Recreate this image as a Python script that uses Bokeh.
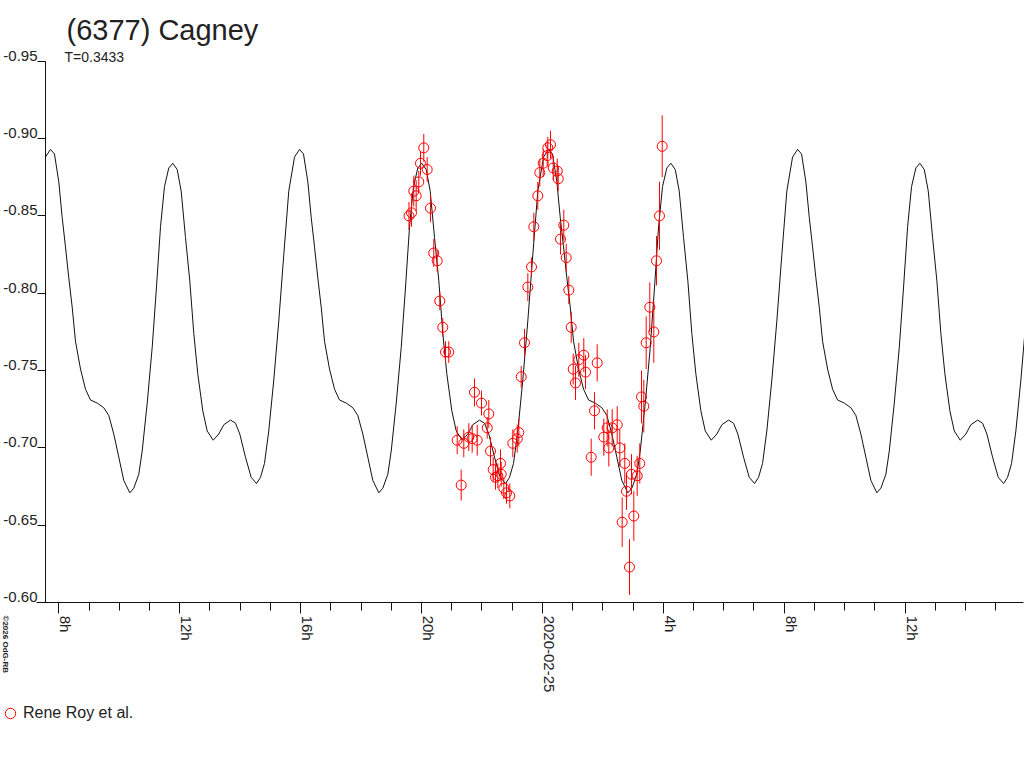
import math
from bokeh.plotting import figure
from bokeh.models import (Range1d, FixedTicker, Label, LinearAxis,
                          Legend, LegendItem, ColumnDataSource)
from bokeh.embed import file_html
from bokeh.resources import INLINE

# ---- Observations (hours since 2020-02-24 00:00 UT, relative magnitude, error) ----
obs_hours = [19.586, 19.669, 19.745, 19.824, 19.910, 19.966, 20.075, 20.188, 20.297, 20.406,
             20.519, 20.605, 20.704, 20.794, 20.903, 21.181, 21.313, 21.399, 21.565, 21.677,
             21.753, 21.843, 21.985, 22.174, 22.227, 22.283, 22.372, 22.448, 22.525, 22.614,
             22.637, 22.723, 22.813, 22.922, 23.021, 23.167, 23.220, 23.299, 23.408, 23.518,
             23.640, 23.716, 23.848, 23.914, 24.027, 24.159, 24.179, 24.268, 24.358, 24.490,
             24.523, 24.599, 24.708, 24.788, 24.874, 24.953, 25.019, 25.095, 25.204, 25.370,
             25.426, 25.614, 25.723, 25.813, 26.031, 26.144, 26.197, 26.309, 26.475, 26.561,
             26.640, 26.726, 26.782, 26.882, 26.948, 27.024, 27.136, 27.222, 27.279, 27.355,
             27.434, 27.553, 27.686, 27.775, 27.874, 27.964]
obs_mag = [-0.850, -0.852, -0.866, -0.863, -0.872, -0.884, -0.894, -0.880, -0.855, -0.826,
           -0.821, -0.795, -0.778, -0.762, -0.762, -0.705, -0.676, -0.703, -0.707, -0.706,
           -0.736, -0.705, -0.729, -0.713, -0.722, -0.698, -0.686, -0.681, -0.682, -0.690,
           -0.683, -0.674, -0.671, -0.669, -0.703, -0.706, -0.710, -0.746, -0.768, -0.804,
           -0.817, -0.843, -0.863, -0.878, -0.884, -0.889, -0.894, -0.896, -0.881, -0.879,
           -0.874, -0.835, -0.844, -0.823, -0.802, -0.778, -0.751, -0.742, -0.757, -0.760,
           -0.749, -0.694, -0.724, -0.755, -0.707, -0.713, -0.700, -0.713, -0.715, -0.700,
           -0.652, -0.690, -0.672, -0.623, -0.683, -0.656, -0.682, -0.690, -0.733, -0.727,
           -0.768, -0.791, -0.775, -0.821, -0.850, -0.895]
obs_err = [0.009, 0.009, 0.010, 0.010, 0.007, 0.008, 0.009, 0.008, 0.009, 0.009,
           0.007, 0.006, 0.006, 0.007, 0.007, 0.009, 0.010, 0.009, 0.009, 0.009,
           0.009, 0.010, 0.008, 0.007, 0.009, 0.009, 0.008, 0.008, 0.008, 0.009,
           0.008, 0.007, 0.007, 0.008, 0.009, 0.009, 0.009, 0.007, 0.009, 0.009,
           0.006, 0.009, 0.009, 0.009, 0.009, 0.007, 0.007, 0.009, 0.008, 0.008,
           0.008, 0.010, 0.010, 0.009, 0.009, 0.010, 0.010, 0.011, 0.011, 0.011,
           0.011, 0.012, 0.012, 0.012, 0.012, 0.012, 0.012, 0.012, 0.012, 0.012,
           0.016, 0.013, 0.012, 0.018, 0.013, 0.016, 0.013, 0.013, 0.017, 0.017,
           0.017, 0.016, 0.020, 0.016, 0.022, 0.020]

# ---- Fitted lightcurve: one period (hours after a maximum) ----
period_days = 0.3433
model_epoch_hours = 7.725
model_phase_hours = [0.000, 0.132, 0.275, 0.387, 0.496, 0.605, 0.718, 0.827, 0.993, 1.158,
                     1.323, 1.545, 1.763, 1.929, 2.094, 2.260, 2.425, 2.624, 2.756, 2.922,
                     3.034, 3.200, 3.365, 3.507, 3.640, 3.772, 3.914, 4.046, 4.192, 4.324,
                     4.467, 4.609, 4.741, 4.873, 5.039, 5.184, 5.383, 5.568, 5.734, 5.955,
                     6.121, 6.263, 6.452, 6.640, 6.815, 6.948, 7.080, 7.222, 7.388, 7.553,
                     7.719, 7.884, 8.073]
model_mag = [-0.893, -0.890, -0.872, -0.849, -0.830, -0.810, -0.791, -0.769, -0.751, -0.738,
             -0.731, -0.729, -0.726, -0.721, -0.709, -0.694, -0.679, -0.671, -0.674, -0.683,
             -0.698, -0.729, -0.765, -0.804, -0.843, -0.869, -0.881, -0.884, -0.880, -0.866,
             -0.836, -0.808, -0.774, -0.748, -0.724, -0.711, -0.705, -0.709, -0.715, -0.718,
             -0.716, -0.709, -0.694, -0.681, -0.677, -0.681, -0.690, -0.711, -0.744, -0.782,
             -0.825, -0.866, -0.888]

# ---- Axes / ticks ----
x_tick_values = [8, 12, 16, 20, 24, 28, 32, 36]
x_tick_labels = ["8h", "12h", "16h", "20h", "2020-02-25", "4h", "8h", "12h"]
x_minor_ticks = list(range(8, 40))
y_tick_values = [-0.95, -0.90, -0.85, -0.80, -0.75, -0.70, -0.65, -0.60]
y_tick_labels = ["-0.95", "-0.90", "-0.85", "-0.80", "-0.75", "-0.70", "-0.65", "-0.60"]
plot_x_start, plot_x_end = 7.560, 39.917     # time span of the plotting area (hours)
plot_y_bottom, plot_y_top = -0.60, -0.95     # magnitude span (inverted)

title_text = "(6377) Cagney"
subtitle_text = "T=0.3433"
legend_text = "Rene Roy et al."
credit_text = "\u00a92026 OdG-RB"

FONT = "Liberation Sans"
TXT = "#222222"
RED = "#ff0000"
AXC = "#111111"

# ---- Page geometry: the whole canvas is the frame, axes sit at fixed locations ----
W, H = 1024, 768
PX_PER_H = 30.225            # pixels per hour
PX_PER_MAG = 1547.0          # pixels per magnitude
AX_LEFT_PX, AX_TOP_PX = 45.0, 60.7
X_LABEL_SHIFT_PX = 7.0       # tick labels sit right of their tick
Y_LABEL_SHIFT_PX = 5.5       # tick labels sit on their tick


def page_to_hours(px):
    return plot_x_start + (px - AX_LEFT_PX) / PX_PER_H


def page_to_mag(py):
    return plot_y_top + (py - AX_TOP_PX) / PX_PER_MAG


p = figure(width=W, height=H, output_backend="svg", toolbar_location=None,
           x_range=Range1d(page_to_hours(0), page_to_hours(W)),
           y_range=Range1d(page_to_mag(H), page_to_mag(0)),
           min_border_left=0, min_border_right=0, min_border_top=0, min_border_bottom=0)
p.title.visible = False
p.outline_line_color = None
p.grid.visible = False
p.background_fill_color = "white"
p.border_fill_color = "white"

# model curve, repeated with the rotation period; starts at the y axis and runs to the right edge
P_h = period_days * 24.0
curve_t, curve_m = [], []
for k in range(-1, 5):
    for ph, m in zip(model_phase_hours, model_mag):
        t = model_epoch_hours + k * P_h + ph
        if plot_x_start - 0.01 <= t <= plot_x_end + 0.1:
            curve_t.append(t)
            curve_m.append(m)
p.line(curve_t, curve_m, line_color=AXC, line_width=1)

src = ColumnDataSource(dict(
    t=obs_hours, mag=obs_mag,
    lo=[m - e for m, e in zip(obs_mag, obs_err)],
    hi=[m + e for m, e in zip(obs_mag, obs_err)],
))
p.segment(x0="t", y0="lo", x1="t", y1="hi", source=src, line_color=RED, line_width=1)
pts = p.scatter("t", "mag", source=src, marker="circle", size=10, fill_color=None,
                line_color=RED, line_width=1)

# ---- x axis (line and ticks) at magnitude -0.60 ----
xa = p.xaxis[0]
xa.fixed_location = plot_y_bottom
xa.bounds = (page_to_hours(36), plot_x_end)
xa.ticker = FixedTicker(ticks=x_tick_values, minor_ticks=x_minor_ticks)
xa.major_label_overrides = {v: "" for v in x_tick_values}
xa.major_tick_out = 11
xa.major_tick_in = 0
xa.minor_tick_out = 8
xa.minor_tick_in = 0
xa.axis_line_color = AXC
xa.major_tick_line_color = AXC
xa.minor_tick_line_color = AXC

# x tick labels: rotated, their baseline on the tick
x_label_pos = [v + X_LABEL_SHIFT_PX / PX_PER_H for v in x_tick_values]
xl = LinearAxis(fixed_location=plot_y_bottom,
                ticker=FixedTicker(ticks=x_label_pos, minor_ticks=[]),
                major_label_overrides=dict(zip(x_label_pos, x_tick_labels)),
                major_label_orientation=-math.pi / 2,
                major_tick_out=0, major_tick_in=0, minor_tick_out=0, minor_tick_in=0,
                major_label_standoff=13, axis_line_color=None,
                major_tick_line_color=None, minor_tick_line_color=None,
                major_label_text_font=FONT, major_label_text_font_size="15px",
                major_label_text_color=TXT)
p.add_layout(xl, "below")

# ---- y axis at the left edge of the plotting area ----
ya = p.yaxis[0]
ya.fixed_location = plot_x_start
ya.bounds = (plot_y_top, plot_y_bottom)
ya.ticker = FixedTicker(ticks=y_tick_values, minor_ticks=[])
ya.major_label_overrides = {v: "" for v in y_tick_values}
ya.major_tick_out = 8
ya.major_tick_in = 0
ya.minor_tick_out = 0
ya.minor_tick_in = 0
ya.axis_line_color = AXC
ya.major_tick_line_color = AXC

y_label_pos = [v - Y_LABEL_SHIFT_PX / PX_PER_MAG for v in y_tick_values]
yl = LinearAxis(fixed_location=plot_x_start,
                ticker=FixedTicker(ticks=y_label_pos, minor_ticks=[]),
                major_label_overrides=dict(zip(y_label_pos, y_tick_labels)),
                major_tick_out=0, major_tick_in=0, minor_tick_out=0, minor_tick_in=0,
                major_label_standoff=8, axis_line_color=None,
                major_tick_line_color=None, minor_tick_line_color=None,
                major_label_text_font=FONT, major_label_text_font_size="15px",
                major_label_text_color=TXT)
p.add_layout(yl, "left")

# titles and credit
p.add_layout(Label(x=page_to_hours(66), y=page_to_mag(29), text=title_text,
                   text_font=FONT, text_font_size="29px", text_color=TXT,
                   text_align="left", text_baseline="alphabetic"))
p.add_layout(Label(x=page_to_hours(64), y=page_to_mag(56), text=subtitle_text,
                   text_font=FONT, text_font_size="14px", text_color=TXT,
                   text_align="left", text_baseline="alphabetic"))
p.add_layout(Label(x=page_to_hours(4.5), y=page_to_mag(615), text=credit_text,
                   angle=-math.pi / 2, text_font=FONT, text_font_size="8px",
                   text_font_style="bold", text_color=TXT,
                   text_align="left", text_baseline="middle"))

# legend (location in pixels from the canvas' bottom-left)
leg = Legend(items=[LegendItem(label=legend_text, renderers=[pts])],
             location=(-3, 42), orientation="vertical",
             border_line_color=None, background_fill_alpha=0,
             padding=0, margin=0, spacing=0, glyph_width=26, glyph_height=26,
             label_standoff=0, label_text_font=FONT, label_text_font_size="16px",
             label_text_color=TXT)
p.add_layout(leg)

open("out.html", "w").write(file_html(p, INLINE))
